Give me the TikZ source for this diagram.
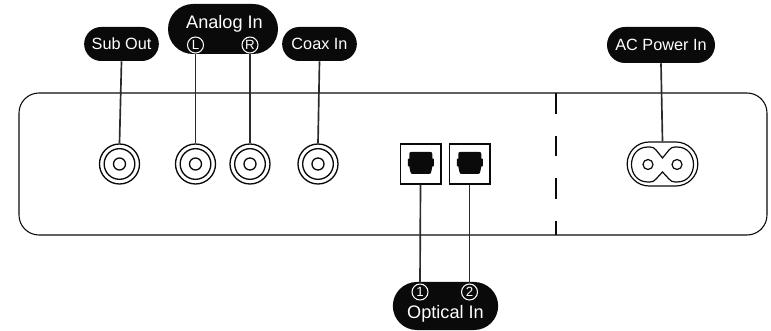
\documentclass[tikz,border=0pt]{standalone}
\usepackage{fontspec}
\setmainfont{Liberation Sans}
\usetikzlibrary{shapes.misc}
\definecolor{ink}{HTML}{0A0A0A}
\definecolor{wire}{HTML}{2A2A2A}
\tikzset{
  x=0.75pt,y=-0.75pt,
  pill/.style={rounded rectangle,fill=ink,text=white,inner sep=0pt,font=\fontsize{12.2}{14}\selectfont},
  bigtext/.style={font=\fontsize{13.6}{15}\selectfont,text=white,inner sep=0pt},
  badge/.style={circle,draw=white,line width=0.8pt,text=white,minimum size=12pt,inner sep=0pt,font=\fontsize{10}{11}\selectfont},
  rcaouter/.style={circle,draw=ink,line width=1pt,minimum size=30pt,inner sep=0pt},
  rcamid/.style={circle,draw=ink,line width=1pt,minimum size=23pt,inner sep=0pt},
  rcainner/.style={circle,draw=ink,line width=1pt,minimum size=9pt,inner sep=0pt},
  optbox/.style={rectangle,draw=ink,line width=1pt,minimum width=30.5pt,minimum height=30pt,inner sep=0pt},
  wireline/.style={draw=wire,line width=1.25pt},
  panel/.style={draw=ink,line width=0.8pt},
  pict/.style={draw=ink,line width=0.9pt}
}
\newcommand{\rcajack}[3]{%
  \node[rcaouter] (#1) at (#2,#3) {};
  \node[rcamid] (#1m) at (#2,#3) {};
  \node[rcainner] (#1i) at (#2,#3) {};
}
\newcommand{\optsock}[2]{%
  \fill[ink,shift={(#1,#2)}] (-11.5,-9.5) .. controls (-11.5,-11) and (-11,-11.5) .. (-9.5,-11.5)
    -- (9.5,-11.5) .. controls (11,-11.5) and (11.5,-11) .. (11.5,-9.5) -- (11.5,-5) -- (13,-4.5) -- (13,2.5)
    -- (11.5,3) -- (10.5,8) .. controls (10.2,10) and (9.5,10.5) .. (8,10.5) -- (-8,10.5)
    .. controls (-9.5,10.5) and (-10.2,10) .. (-10.5,8) -- (-11.5,3) -- (-13,2.5) -- (-13,-4.5) -- (-11.5,-5) -- cycle;
}
\begin{document}
\begin{tikzpicture}
\useasboundingbox (0,0) rectangle (771,331);
% panel
\draw[panel,rounded corners=15pt] (19,93) rectangle (767,235);
\coordinate (dashtop) at (556,93);
\coordinate (dashbot) at (556,235);
\draw[draw=ink,line width=1.1pt,dash pattern=on 15.7pt off 16.2pt] (dashtop) -- (dashbot);
% labels
\node[pill,minimum width=56pt,minimum height=25.5pt] (sub) at (121.5,44) {Sub Out};
\node[pill,minimum width=56pt,minimum height=25.5pt] (coax) at (319.5,44) {Coax In};
\node[pill,minimum width=81pt,minimum height=27pt] (ac) at (661,45) {AC Power In};
\node[pill,minimum width=82.5pt,minimum height=37.5pt] (analog) at (223,29) {};
\node[bigtext] at (224.5,23.5) {Analog In};
\node[badge] (bl) at (195.5,45) {L};
\node[badge] (br) at (250,45) {R};
\node[pill,minimum width=79pt,minimum height=36pt] (optical) at (445.5,306) {};
\node[bigtext] at (445.5,314) {Optical In};
\node[badge] (b1) at (420,292) {1};
\node[badge] (b2) at (469.5,292) {2};
% rca
\rcajack{rs}{119.5}{164}
\rcajack{rl}{195.5}{164}
\rcajack{rr}{250}{164}
\rcajack{rc}{318}{164}
% optical
\node[optbox] (o1) at (420.5,164) {};
\node[optbox] (o2) at (469.5,164) {};
\optsock{420.8}{163.5}
\optsock{469.8}{163.5}
% AC inlet
\node[rounded rectangle,pict,minimum width=53pt,minimum height=33pt,inner sep=0pt] (acin) at (662.5,164) {};
\draw[pict] (648,147) -- (650,147) .. controls (653,147) and (654,148) .. (656,150) -- (662.5,158) -- (669,150)
  .. controls (671,148) and (672,147) .. (675,147) -- (677,147)
  .. controls (699,147) and (699,182) .. (677,182) -- (675,182)
  .. controls (672,182) and (671,181) .. (669,179) -- (662.5,172) -- (656,179)
  .. controls (654,181) and (653,182) .. (650,182) -- (648,182)
  .. controls (626,182) and (626,147) .. (648,147) -- cycle;
\node[circle,pict,minimum size=7.5pt,inner sep=0pt] (p1) at (648,164.5) {};
\node[circle,pict,minimum size=7.5pt,inner sep=0pt] (p2) at (677,164.5) {};
% connectors
\draw[wireline] (sub.south) -- (rs.north);
\draw[wireline] (coax.south) -- (rc.north);
\draw[wireline] (bl.south) -- (rl.north);
\draw[wireline] (br.south) -- (rr.north);
\draw[wireline] (ac.south) -- (acin.north);
\draw[wireline] (o1.south) -- (b1.north);
\draw[wireline] (o2.south) -- (b2.north);
\end{tikzpicture}
\end{document}
